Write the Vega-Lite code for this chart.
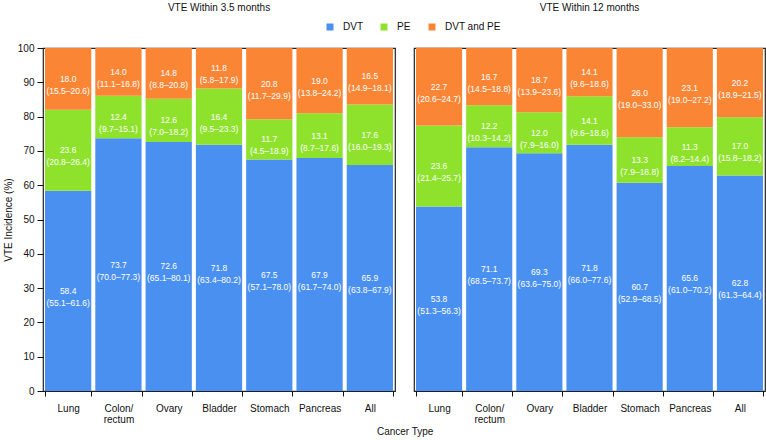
{
  "$schema": "https://vega.github.io/schema/vega-lite/v6.json",
  "padding": {"left": 2, "top": 2, "right": 0, "bottom": 0},
  "background": "white",
  "title": {"text": "Cancer Type", "orient": "bottom", "anchor": "middle", "frame": "bounds", "dx": 21, "fontSize": 10, "fontWeight": "normal", "color": "#111", "offset": 2, "font": "Liberation Sans"},
  "data": {
    "values": [
      {"window": "VTE Within 3.5 months", "cancer": "Lung", "type": "DVT", "value": 58.4, "ci": "55.1–61.6"},
      {"window": "VTE Within 3.5 months", "cancer": "Lung", "type": "PE", "value": 23.6, "ci": "20.8–26.4"},
      {"window": "VTE Within 3.5 months", "cancer": "Lung", "type": "DVT and PE", "value": 18.0, "ci": "15.5–20.6"},
      {"window": "VTE Within 3.5 months", "cancer": "Colon/rectum", "type": "DVT", "value": 73.7, "ci": "70.0–77.3"},
      {"window": "VTE Within 3.5 months", "cancer": "Colon/rectum", "type": "PE", "value": 12.4, "ci": "9.7–15.1"},
      {"window": "VTE Within 3.5 months", "cancer": "Colon/rectum", "type": "DVT and PE", "value": 14.0, "ci": "11.1–16.8"},
      {"window": "VTE Within 3.5 months", "cancer": "Ovary", "type": "DVT", "value": 72.6, "ci": "65.1–80.1"},
      {"window": "VTE Within 3.5 months", "cancer": "Ovary", "type": "PE", "value": 12.6, "ci": "7.0–18.2"},
      {"window": "VTE Within 3.5 months", "cancer": "Ovary", "type": "DVT and PE", "value": 14.8, "ci": "8.8–20.8"},
      {"window": "VTE Within 3.5 months", "cancer": "Bladder", "type": "DVT", "value": 71.8, "ci": "63.4–80.2"},
      {"window": "VTE Within 3.5 months", "cancer": "Bladder", "type": "PE", "value": 16.4, "ci": "9.5–23.3"},
      {"window": "VTE Within 3.5 months", "cancer": "Bladder", "type": "DVT and PE", "value": 11.8, "ci": "5.8–17.9"},
      {"window": "VTE Within 3.5 months", "cancer": "Stomach", "type": "DVT", "value": 67.5, "ci": "57.1–78.0"},
      {"window": "VTE Within 3.5 months", "cancer": "Stomach", "type": "PE", "value": 11.7, "ci": "4.5–18.9"},
      {"window": "VTE Within 3.5 months", "cancer": "Stomach", "type": "DVT and PE", "value": 20.8, "ci": "11.7–29.9"},
      {"window": "VTE Within 3.5 months", "cancer": "Pancreas", "type": "DVT", "value": 67.9, "ci": "61.7–74.0"},
      {"window": "VTE Within 3.5 months", "cancer": "Pancreas", "type": "PE", "value": 13.1, "ci": "8.7–17.6"},
      {"window": "VTE Within 3.5 months", "cancer": "Pancreas", "type": "DVT and PE", "value": 19.0, "ci": "13.8–24.2"},
      {"window": "VTE Within 3.5 months", "cancer": "All", "type": "DVT", "value": 65.9, "ci": "63.8–67.9"},
      {"window": "VTE Within 3.5 months", "cancer": "All", "type": "PE", "value": 17.6, "ci": "16.0–19.3"},
      {"window": "VTE Within 3.5 months", "cancer": "All", "type": "DVT and PE", "value": 16.5, "ci": "14.9–18.1"},
      {"window": "VTE Within 12 months", "cancer": "Lung", "type": "DVT", "value": 53.8, "ci": "51.3–56.3"},
      {"window": "VTE Within 12 months", "cancer": "Lung", "type": "PE", "value": 23.6, "ci": "21.4–25.7"},
      {"window": "VTE Within 12 months", "cancer": "Lung", "type": "DVT and PE", "value": 22.7, "ci": "20.6–24.7"},
      {"window": "VTE Within 12 months", "cancer": "Colon/rectum", "type": "DVT", "value": 71.1, "ci": "68.5–73.7"},
      {"window": "VTE Within 12 months", "cancer": "Colon/rectum", "type": "PE", "value": 12.2, "ci": "10.3–14.2"},
      {"window": "VTE Within 12 months", "cancer": "Colon/rectum", "type": "DVT and PE", "value": 16.7, "ci": "14.5–18.8"},
      {"window": "VTE Within 12 months", "cancer": "Ovary", "type": "DVT", "value": 69.3, "ci": "63.6–75.0"},
      {"window": "VTE Within 12 months", "cancer": "Ovary", "type": "PE", "value": 12.0, "ci": "7.9–16.0"},
      {"window": "VTE Within 12 months", "cancer": "Ovary", "type": "DVT and PE", "value": 18.7, "ci": "13.9–23.6"},
      {"window": "VTE Within 12 months", "cancer": "Bladder", "type": "DVT", "value": 71.8, "ci": "66.0–77.6"},
      {"window": "VTE Within 12 months", "cancer": "Bladder", "type": "PE", "value": 14.1, "ci": "9.6–18.6"},
      {"window": "VTE Within 12 months", "cancer": "Bladder", "type": "DVT and PE", "value": 14.1, "ci": "9.6–18.6"},
      {"window": "VTE Within 12 months", "cancer": "Stomach", "type": "DVT", "value": 60.7, "ci": "52.9–68.5"},
      {"window": "VTE Within 12 months", "cancer": "Stomach", "type": "PE", "value": 13.3, "ci": "7.9–18.8"},
      {"window": "VTE Within 12 months", "cancer": "Stomach", "type": "DVT and PE", "value": 26.0, "ci": "19.0–33.0"},
      {"window": "VTE Within 12 months", "cancer": "Pancreas", "type": "DVT", "value": 65.6, "ci": "61.0–70.2"},
      {"window": "VTE Within 12 months", "cancer": "Pancreas", "type": "PE", "value": 11.3, "ci": "8.2–14.4"},
      {"window": "VTE Within 12 months", "cancer": "Pancreas", "type": "DVT and PE", "value": 23.1, "ci": "19.0–27.2"},
      {"window": "VTE Within 12 months", "cancer": "All", "type": "DVT", "value": 62.8, "ci": "61.3–64.4"},
      {"window": "VTE Within 12 months", "cancer": "All", "type": "PE", "value": 17.0, "ci": "15.8–18.2"},
      {"window": "VTE Within 12 months", "cancer": "All", "type": "DVT and PE", "value": 20.2, "ci": "18.9–21.5"}
    ]
  },
  "transform": [
    {"calculate": "indexof(['DVT','PE','DVT and PE'], datum.type)", "as": "torder"},
    {"stack": "value", "groupby": ["window", "cancer"], "sort": [{"field": "torder", "order": "ascending"}], "as": ["v0", "v1"]},
    {"calculate": "(datum.v0 + datum.v1) / 2", "as": "mid"},
    {"calculate": "format(datum.value, '.1f') + '\\n(' + datum.ci + ')'", "as": "label"}
  ],
  "spacing": 17,
  "hconcat": [
    {
      "title": {"text": "VTE Within 3.5 months", "offset": 30},
      "transform": [{"filter": "datum.window == 'VTE Within 3.5 months'"}],
      "width": 352,
      "height": 343,
      "encoding": {
        "x": {
          "field": "cancer", "type": "nominal",
          "sort": ["Lung", "Colon/rectum", "Ovary", "Bladder", "Stomach", "Pancreas", "All"],
          "scale": {"paddingInner": 0.08, "paddingOuter": 0.04},
          "axis": {"title": null}
        }
      },
      "layer": [
        {
          "mark": {"type": "bar"},
          "encoding": {
            "y": {
              "field": "v0", "type": "quantitative",
              "scale": {"domain": [0, 100], "nice": false},
              "axis": {"title": "VTE Incidence (%)", "values": [0, 10, 20, 30, 40, 50, 60, 70, 80, 90, 100]}
            },
            "y2": {"field": "v1"},
            "color": {
              "field": "type", "type": "nominal",
              "scale": {"domain": ["DVT", "PE", "DVT and PE"], "range": ["#4A90F0", "#8EE22B", "#FA8534"]},
              "legend": {
                "title": null, "orient": "none", "direction": "horizontal",
                "legendX": 282, "legendY": -26,
                "symbolType": "square", "symbolSize": 49, "symbolStrokeWidth": 0, "symbolOpacity": 1,
                "labelFontSize": 10, "labelColor": "#111", "columnPadding": 16, "labelOffset": 8
              }
            }
          }
        },
        {
          "mark": {"type": "text", "color": "white", "fontSize": 8.5, "lineBreak": "\n", "lineHeight": 12, "baseline": "middle", "align": "center"},
          "encoding": {
            "y": {"field": "mid", "type": "quantitative", "axis": {"title": "VTE Incidence (%)", "values": [0, 10, 20, 30, 40, 50, 60, 70, 80, 90, 100]}},
            "text": {"field": "label", "type": "nominal"}
          }
        }
      ]
    },
    {
      "title": {"text": "VTE Within 12 months", "offset": 35},
      "transform": [{"filter": "datum.window == 'VTE Within 12 months'"}],
      "width": 351,
      "height": 343,
      "encoding": {
        "x": {
          "field": "cancer", "type": "nominal",
          "sort": ["Lung", "Colon/rectum", "Ovary", "Bladder", "Stomach", "Pancreas", "All"],
          "scale": {"paddingInner": 0.08, "paddingOuter": 0.04},
          "axis": {"title": null}
        }
      },
      "layer": [
        {
          "mark": {"type": "bar"},
          "encoding": {
            "y": {"field": "v0", "type": "quantitative", "scale": {"domain": [0, 100], "nice": false}, "axis": null},
            "y2": {"field": "v1"},
            "color": {"field": "type", "type": "nominal", "scale": {"domain": ["DVT", "PE", "DVT and PE"], "range": ["#4A90F0", "#8EE22B", "#FA8534"]}}
          }
        },
        {
          "mark": {"type": "text", "color": "white", "fontSize": 8.5, "lineBreak": "\n", "lineHeight": 12, "baseline": "middle", "align": "center"},
          "encoding": {
            "y": {"field": "mid", "type": "quantitative", "axis": null},
            "text": {"field": "label", "type": "nominal"}
          }
        }
      ]
    }
  ],
  "config": {
    "font": "Liberation Sans",
    "view": {"stroke": "#222", "strokeWidth": 1.2},
    "bar": {"stroke": null},
    "title": {"fontSize": 10, "fontWeight": "normal", "color": "#111"},
    "axis": {"grid": false, "domain": false, "tickColor": "#111", "labelColor": "#111", "labelFontSize": 10, "titleFontSize": 10, "titleFontWeight": "normal", "titleColor": "#111"},
    "axisY": {"tickSize": 6, "labelPadding": 3, "titlePadding": 4, "labelOverlap": false},
    "axisX": {"labelAngle": 0, "tickBand": "extent", "tickSize": 5, "labelPadding": 7, "labelLineHeight": 11, "labelExpr": "datum.value == 'Colon/rectum' ? ['Colon/', 'rectum'] : datum.label"}
  }
}
